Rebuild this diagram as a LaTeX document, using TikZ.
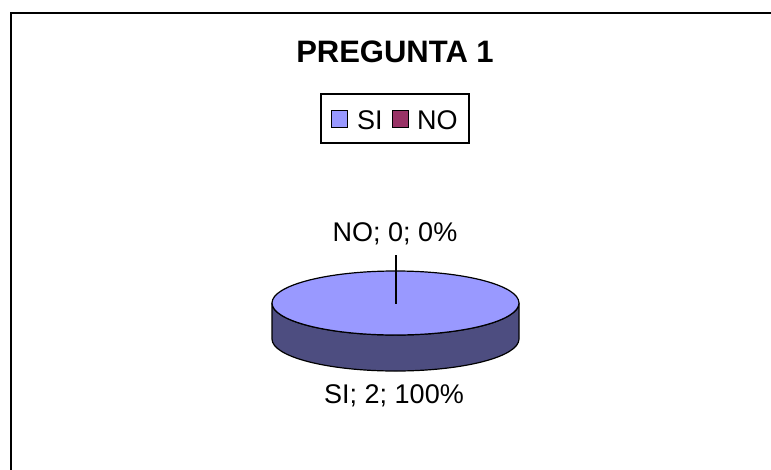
\documentclass[tikz,border=0pt]{standalone}
\usepackage{fontspec}
\setmainfont{Liberation Sans}
\definecolor{pietop}{HTML}{9999FF}
\definecolor{pieside}{HTML}{4D4D80}
\definecolor{nocol}{HTML}{993366}
\newcommand{\Lbl}[1]{\fontsize{27}{31}\selectfont #1}
\begin{document}
\begin{tikzpicture}[x=1pt,y=1pt]
    \path[use as bounding box,clip] (0,0) rectangle (771,-469);
    \draw[line width=2pt] (10.5,-12.5) rectangle (790,-490);
    \draw (395,-62) node[anchor=base,inner sep=0] (title) {\fontsize{31}{37}\selectfont\bfseries PREGUNTA 1};
    \draw[line width=1.2pt] (321,-94) rectangle (469,-143);
    \draw[fill=pietop,line width=1pt] (331,-110) rectangle (347,-127);
    \draw (357,-129) node[anchor=base west,inner sep=0] (silab) {\Lbl{SI}};
    \draw[fill=nocol,line width=1pt] (392,-110) rectangle (408,-127);
    \draw (417,-129) node[anchor=base west,inner sep=0] (nolab) {\Lbl{NO}};
    \draw[fill=pieside,line width=1.2pt] (272,-303) -- (272,-339)
        arc[start angle=180,end angle=360,x radius=123.5,y radius=32]
        -- (519,-303)
        arc[start angle=0,end angle=-180,x radius=123.5,y radius=32] -- cycle;
    \draw[fill=pietop,line width=1.2pt] (395.5,-303) ellipse[x radius=123.5,y radius=32];
    \coordinate (pc) at (396,-304);
    \coordinate (ldtop) at (396,-255);
    \draw[line width=1.2pt] (ldtop) -- (pc);
    \draw (395,-241) node[anchor=base,inner sep=0] (lblno) {\Lbl{NO; 0; 0\%}};
    \draw (394,-403) node[anchor=base,inner sep=0] (lblsi) {\Lbl{SI; 2; 100\%}};
\end{tikzpicture}
\end{document}
